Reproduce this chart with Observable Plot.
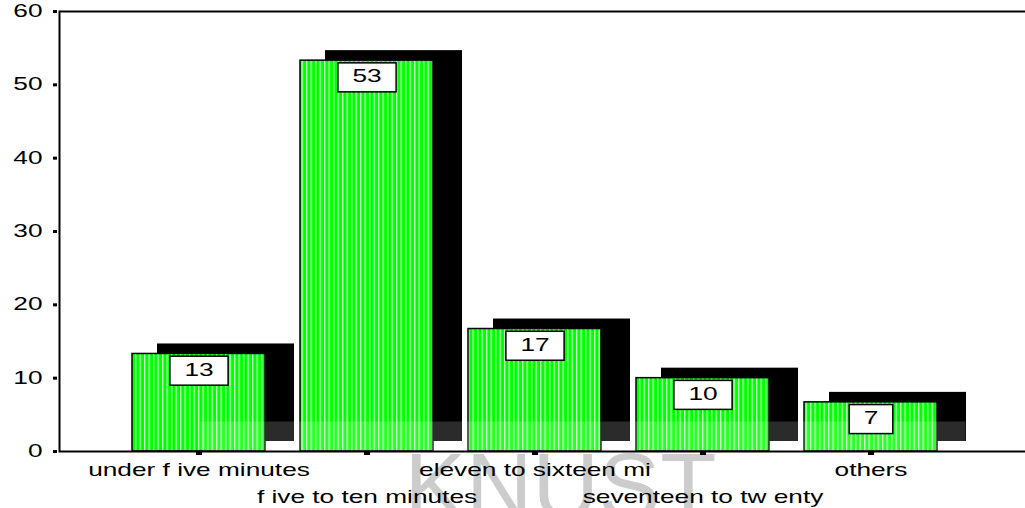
<!DOCTYPE html>
<html><head><meta charset="utf-8">
<script src="https://cdn.jsdelivr.net/npm/d3@7"></script>
<script src="https://cdn.jsdelivr.net/npm/@observablehq/plot@0.6"></script>
<style>
html,body{margin:0;padding:0;background:#fff;}
#chart{width:1025px;height:508px;overflow:hidden;position:relative;}
</style></head><body><div id="chart"></div>
<script>
const categories = ["under f ive minutes", "f ive to ten minutes", "eleven to sixteen mi", "seventeen to tw enty", "others"];
const percents = [13.3, 53.3, 16.7, 10.0, 6.7];
const yTicks = [0, 10, 20, 30, 40, 50, 60];
const watermark = ["KNUST"];

const data = categories.map((c, i) => ({category: c, value: percents[i], label: d3.format(".0f")(percents[i])}));
const row1 = categories.filter((d, i) => i % 2 === 0);
const row2 = categories.filter((d, i) => i % 2 === 1);

const FONT = "'Liberation Sans', Arial, sans-serif";
const STRETCH = 1.5;
const FS = 17.5;

const svg = Plot.plot({
  width: 1025, height: 508,
  marginLeft: 59, marginRight: 0, marginTop: 11, marginBottom: 57,
  style: {fontFamily: FONT, fontSize: FS + "px", color: "black", background: "white", overflow: "visible"},
  x: {domain: categories, range: [95, 973], padding: 0.21, label: null},
  y: {domain: [0, 60], label: null},
  marks: [
    Plot.text(watermark, {frameAnchor: "bottom", lineAnchor: "top", dx: 18, dy: 1, fontSize: 92, fill: "#cccccc", fontFamily: FONT}),
    Plot.barY(data, {x: "category", y: "value", fill: "black", dx: 27, dy: -10, insetLeft: -2, insetRight: -2}),
    Plot.barY(data, {x: "category", y: "value", fill: "url(#stripes)", stroke: "black", strokeWidth: 1.5}),
    Plot.frame({fill: "white", fillOpacity: 0.17, stroke: "none", insetLeft: 141, insetRight: 60, insetTop: 410}),
    Plot.frame({stroke: "black", strokeWidth: 2, insetRight: -6}),
    Plot.axisY({ticks: yTicks, tickSize: 4, strokeWidth: 3, dx: -2, tickPadding: 11, fontSize: FS, tickFormat: d => d}),
    Plot.axisX({ticks: row1, tickSize: 4, strokeWidth: 6, tickPadding: 8, fontSize: FS}),
    Plot.axisX({ticks: row2, tickSize: 4, strokeWidth: 6, tickPadding: 35, fontSize: FS}),
    Plot.text(data, {x: "category", y: "value", text: "label", dy: 16, lineAnchor: "middle", fontSize: FS, fill: "black"})
  ]
});

document.getElementById("chart").appendChild(svg);

// stripe pattern for the bars
const defs = d3.select(svg).insert("defs", ":first-child");
const pat = defs.append("pattern").attr("id", "stripes").attr("patternUnits", "userSpaceOnUse").attr("width", 4.5).attr("height", 10);
pat.append("rect").attr("width", 4.5).attr("height", 10).attr("fill", "#00ff00");
pat.append("rect").attr("x", 0).attr("width", 1.3).attr("height", 10).attr("fill", "#c8ffc8");

// identify the text-mark groups: watermark and value labels
const textGroups = Array.from(svg.querySelectorAll("g")).filter(g =>
  g.children.length > 0 && Array.from(g.children).every(c => c.tagName.toLowerCase() === "text") &&
  !/axis/.test(g.getAttribute("aria-label") || ""));
const watermarkGroup = textGroups.find(g => g.textContent.includes("KNUST"));
const labelGroup = textGroups.filter(g => g !== watermarkGroup && g.children.length === data.length).pop();

// horizontally stretched lettering like the original export
svg.querySelectorAll("text").forEach(t => {
  if (watermarkGroup && watermarkGroup.contains(t)) return;
  const tr = t.getAttribute("transform") || "";
  if (/translate/.test(tr)) {
    t.setAttribute("transform", tr + ` scale(${STRETCH},1)`);
  } else {
    const x = +t.getAttribute("x") || 0, y = +t.getAttribute("y") || 0;
    t.setAttribute("transform", `translate(${x},${y}) scale(${STRETCH},1) translate(${-x},${-y})`);
  }
});

// white boxes behind the value labels
if (labelGroup) {
  const svgRect = svg.getBoundingClientRect();
  const boxes = d3.select(labelGroup.parentNode).insert("g", () => labelGroup);
  labelGroup.querySelectorAll("text").forEach(t => {
    const r = t.getBoundingClientRect();
    const cx = r.x - svgRect.x + r.width / 2;
    const cy = r.y - svgRect.y + r.height / 2;
    const w = r.width + 29, h = 29;
    boxes.append("rect").attr("x", cx - w / 2).attr("y", cy - h / 2 + 1).attr("width", w).attr("height", h)
      .attr("fill", "white").attr("stroke", "black").attr("stroke-width", 1.5);
  });
}
</script>
</body></html>
